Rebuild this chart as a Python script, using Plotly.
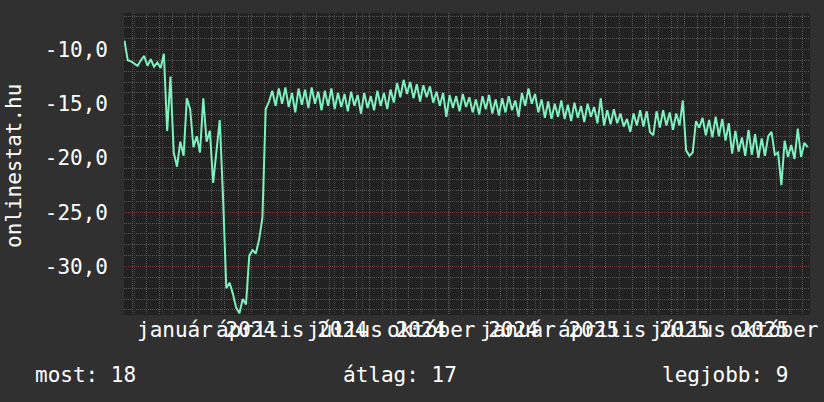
import plotly.graph_objects as go
import pandas as pd

# ---------------- data (negated rank) ----------------
SAMPLE_START = "2023-10-21"
SAMPLE_STEP = "84h"   # two samples per week

rank_values = [
    -9.2, -11.0, -11.1, -11.3, -11.5, -11.0, -10.6, -11.5, -10.9, -11.6,
    -11.2, -11.7, -10.4, -17.5, -12.5, -19.5, -20.8, -18.5, -19.8, -14.5,
    -15.5, -19.0, -18.0, -19.5, -14.5, -18.5, -17.5, -22.3, -19.5, -16.5,
    -23.5, -32.0, -31.5, -32.5, -33.8, -34.3, -33.0, -33.5, -29.0, -28.5,
    -28.8, -27.5, -25.5, -15.5, -14.8,
    -13.8, -15.2, -13.6, -15.0, -13.5, -15.3, -14.0, -15.8, -13.6, -15.1,
    -13.7, -15.4, -13.5, -15.0, -13.9, -15.6, -13.8, -15.2, -13.6, -15.5,
    -14.0, -15.3, -14.1, -15.7, -13.9, -15.2, -14.2, -15.9, -14.0, -15.4,
    -14.3, -15.6, -13.8, -15.2, -14.0, -15.5, -13.7, -14.9, -13.1, -14.4,
    -12.8, -14.1, -13.0, -14.5, -13.2, -14.8, -13.3, -14.4, -13.4, -14.9,
    -13.9, -15.2, -14.0, -16.2, -14.2, -15.4, -14.3, -15.7, -14.1, -15.3,
    -14.4, -15.8, -14.6, -16.0, -14.3, -15.5, -14.2, -15.9, -14.6, -16.1,
    -14.5, -15.8, -14.3, -15.6, -14.7, -16.2, -14.0, -15.2, -13.6, -15.0,
    -14.1, -15.8, -14.6, -16.3, -14.8, -16.4, -15.0, -16.2, -14.7, -16.4,
    -15.1, -16.6, -14.9, -16.3, -15.2, -16.7, -15.0, -16.2, -15.3, -16.8,
    -14.5, -17.0, -15.6, -16.9, -15.5, -16.8, -15.9, -17.1, -16.4, -17.6,
    -15.9, -17.0, -15.6, -17.1, -15.7, -17.6, -17.9, -15.7, -17.2, -15.6,
    -17.0, -15.8, -17.4, -15.9, -17.0, -14.7, -19.3, -19.8, -19.5, -16.6,
    -17.2, -16.3, -17.9, -16.5, -18.1, -16.2, -18.0, -16.4, -18.4, -16.8,
    -19.6, -17.5, -19.4, -18.1, -19.8, -17.4, -19.7, -17.8, -20.0, -18.2,
    -19.8, -18.0, -17.6, -19.7, -19.5, -22.5, -18.4, -19.9, -18.8, -20.1,
    -17.3, -19.9, -18.6, -19.0,
]

X_RANGE = ["2023-10-20 12:00", "2025-10-20 12:00"]
Y_RANGE = [-34.47, -6.64]
Y_MAJOR = [-30, -25, -20, -15, -10]
Y_TICKTEXT = [f"{v:.1f}".replace(".", ",") for v in Y_MAJOR]

MONTHS_HU = ["január", "február", "március", "április", "május", "június",
             "július", "augusztus", "szeptember", "október", "november", "december"]
LABEL_START, LABEL_END = "2024-01-01", "2025-10-01"
Y_TITLE = "onlinestat.hu"
LEGEND_TEXTS = ["most: 18", "átlag: 17", "legjobb: 9"]

# ---------------- derived ----------------
dates = pd.date_range(SAMPLE_START, periods=len(rank_values), freq=SAMPLE_STEP)
month_grid = pd.date_range("2023-11-01", "2025-10-01", freq="MS")
week_grid = pd.date_range("2023-10-30", "2025-10-20", freq="14D")
label_ticks = pd.date_range(LABEL_START, LABEL_END, freq="QS")
label_pos = label_ticks + pd.Timedelta(days=15)
label_texts = [f"{MONTHS_HU[d.month - 1]} {d.year}" for d in label_ticks]

FONT = "DejaVu Sans Mono"
FS = 21
W, H = 824, 402
PLOT_L, PLOT_R, PLOT_T, PLOT_B = 124, 810, 13, 315   # page pixels
L, R, T, B = PLOT_L, W - PLOT_R, PLOT_T, H - PLOT_B
PW, PH = W - L - R, H - T - B


def px_x(px):
    return (px - PLOT_L) / PW


def px_y(py):
    return (PLOT_B - py) / PH


fig = go.Figure()
fig.add_trace(go.Scatter(
    x=dates, y=rank_values, mode="lines",
    line=dict(color="#7ff0bf", width=2), hoverinfo="skip", showlegend=False,
))

# axis arrows
x_end = pd.Timestamp(X_RANGE[1]) + pd.Timedelta(days=2)
fig.add_trace(go.Scatter(
    x=[pd.Timestamp(X_RANGE[0]), x_end], y=[Y_RANGE[1] + 0.2, Y_RANGE[0]],
    mode="markers", cliponaxis=False, hoverinfo="skip", showlegend=False,
    marker=dict(symbol=["triangle-up", "triangle-right"], size=7, color="#00cc00"),
))

fig.update_layout(
    width=W, height=H, autosize=False,
    margin=dict(l=L, r=R, t=T, b=B, pad=0),
    paper_bgcolor="#303030", plot_bgcolor="#222222",
    font=dict(family=FONT, size=FS, color="#ffffff"),
    showlegend=False,
)

fig.update_xaxes(
    range=X_RANGE, type="date", showticklabels=False, ticks="",
    tickmode="array", tickvals=month_grid,
    showgrid=True, gridcolor="#6e3636", griddash="1px,1px", gridwidth=1,
    minor=dict(tickmode="array", tickvals=week_grid, showgrid=True,
               gridcolor="#555555", griddash="1px,1px", gridwidth=1),
    zeroline=False, showline=False,
)
fig.update_yaxes(
    range=Y_RANGE, tickmode="array", tickvals=Y_MAJOR, ticktext=Y_TICKTEXT,
    ticks="", ticklabelstandoff=15,
    tickfont=dict(family=FONT, size=FS, color="#ffffff"),
    showgrid=True, gridcolor="#6e3636", griddash="1px,1px", gridwidth=1,
    minor=dict(dtick=1, showgrid=True, gridcolor="#555555",
               griddash="1px,1px", gridwidth=1),
    zeroline=False, showline=False,
)

annotations = []
for pos, txt in zip(label_pos, label_texts):
    annotations.append(dict(
        x=pos, y=px_y(330), xref="x", yref="paper", text=txt, showarrow=False,
        xanchor="center", yanchor="middle",
        font=dict(family=FONT, size=FS, color="#ffffff"),
    ))

annotations.append(dict(
    x=px_x(14), y=px_y(166), xref="paper", yref="paper", text=Y_TITLE,
    textangle=-90, showarrow=False, xanchor="center", yanchor="middle",
    font=dict(family=FONT, size=FS, color="#ffffff"),
))

legend_px = [(33, "left"), (341, "left"), (790, "right")]
for (lx, anc), txt in zip(legend_px, LEGEND_TEXTS):
    annotations.append(dict(
        x=px_x(lx), y=px_y(375), xref="paper", yref="paper", text=txt,
        showarrow=False, xanchor=anc, yanchor="middle",
        font=dict(family=FONT, size=FS, color="#ffffff"),
    ))

fig.update_layout(annotations=annotations)
fig.write_html(
    "out.html",
    config={"displayModeBar": False, "staticPlot": True},
    post_script="document.body.style.margin='0';document.body.style.background='#303030';",
)
